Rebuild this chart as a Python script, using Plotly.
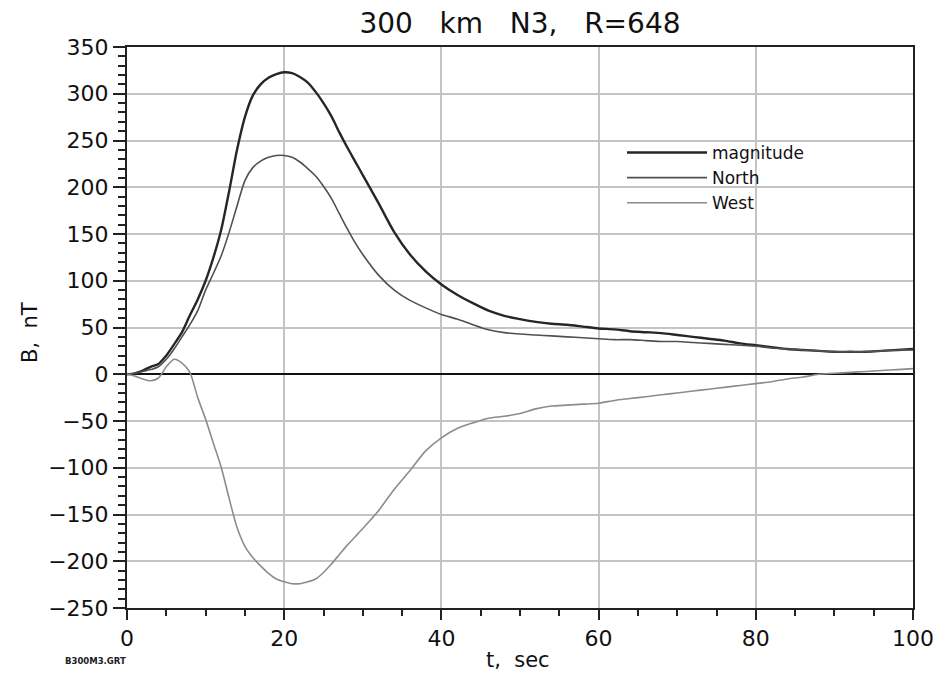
import plotly.graph_objects as go

# ---- data ----
t = [0, 1, 2, 3, 4, 5, 6, 7, 8, 9, 10, 11, 12, 13, 14, 15, 16, 17, 18, 19, 20,
     21, 22, 23, 24, 25, 26, 27, 28, 29, 30, 32, 34, 36, 38, 40, 42, 44, 46, 48,
     50, 52, 54, 56, 58, 60, 62, 64, 66, 68, 70, 72, 74, 76, 78, 80, 82, 84, 86,
     88, 90, 92, 94, 96, 98, 100]

magnitude = [0, 1, 4, 8, 11, 20, 32, 45, 63, 80, 100, 125, 155, 196, 240, 275,
             298, 310, 317, 321, 323, 322, 318, 312, 302, 290, 276, 259, 243,
             228, 213, 183, 152, 128, 110, 96, 85, 76, 68, 62.5, 59, 56, 54, 53,
             51, 49, 48, 46, 45, 44, 42, 40, 38, 36, 33, 31, 29, 27, 26, 25, 24,
             24, 24, 25, 26, 27]

north = [0, 1, 3, 5, 8, 16, 27, 40, 53, 68, 90, 108, 127, 152, 180, 207, 221,
         228, 232, 234, 234, 232, 227, 220, 212, 201, 188, 172, 156, 141, 128,
         106, 90, 79, 71, 64, 59, 53, 47.5, 44.5, 43, 42, 41, 40, 39, 38, 37, 37,
         36, 35, 35, 34, 33, 32, 31, 30, 28, 27, 26, 25, 24, 24, 24, 25, 26, 26]

west = [0, -2, -5, -7, -4, 8, 16, 12, 2, -25, -48, -74, -100, -133, -164, -184,
        -196, -205, -213, -219, -222, -224, -224, -222, -219, -212, -203, -193,
        -183, -174, -165, -146, -123, -103, -82, -68, -58, -52, -47, -45, -42,
        -37, -34, -33, -32, -31, -28, -26, -24, -22, -20, -18, -16, -14, -12,
        -10, -8, -5, -3, 0, 1, 2, 3, 4, 5, 6]

series_names = ["magnitude", "North", "West"]

FONT = "DejaVu Sans"
L, R, T, B = 127, 28, 47, 71
PW, PH = 941 - L - R, 679 - T - B

fig = go.Figure()
fig.add_trace(go.Scatter(x=t, y=magnitude, name=series_names[0], mode="lines",
                         line=dict(color="#262626", width=2.4, shape="spline", smoothing=0.7)))
fig.add_trace(go.Scatter(x=t, y=north, name=series_names[1], mode="lines",
                         line=dict(color="#505050", width=1.6, shape="spline", smoothing=0.7)))
fig.add_trace(go.Scatter(x=t, y=west, name=series_names[2], mode="lines",
                         line=dict(color="#8c8c8c", width=1.6, shape="spline", smoothing=0.7)))

fig.update_layout(
    width=941, height=679,
    margin=dict(l=L, r=R, t=T, b=B, autoexpand=False),
    paper_bgcolor="white", plot_bgcolor="white",
    font=dict(family=FONT, color="#111111"),
    title=dict(text="300\u00a0\u00a0\u00a0km\u00a0\u00a0\u00a0N3,\u00a0\u00a0\u00a0R=648",
               x=0.5, xref="paper", y=1 - 23 / 679, yref="container",
               xanchor="center", yanchor="middle",
               font=dict(family=FONT, size=28, color="#111111")),
    showlegend=True,
    legend=dict(x=(622 - L) / PW, y=(608 - 135) / PH, xanchor="left", yanchor="top",
                bgcolor="rgba(0,0,0,0)", borderwidth=0,
                font=dict(family=FONT, size=17, color="#111111"),
                itemwidth=80, tracegroupgap=0),
)

fig.update_xaxes(
    range=[0, 100], dtick=20, tick0=0, automargin=False,
    showline=True, mirror=True, linecolor="#222222", linewidth=2,
    ticks="outside", ticklen=10, tickwidth=2, tickcolor="#222222",
    minor=dict(dtick=5, ticks="outside", ticklen=6, tickwidth=2,
               tickcolor="#222222", showgrid=False),
    showgrid=True, gridcolor="#c4c4c4", gridwidth=1.6,
    zeroline=False,
    tickfont=dict(family=FONT, size=22, color="#111111"),
)

fig.update_yaxes(
    range=[-250, 350], dtick=50, tick0=0, automargin=False,
    showline=True, mirror=True, linecolor="#222222", linewidth=2,
    ticks="outside", ticklen=12, tickwidth=2, tickcolor="#222222",
    minor=dict(dtick=10, ticks="outside", ticklen=7, tickwidth=2,
               tickcolor="#222222", showgrid=False),
    showgrid=True, gridcolor="#c4c4c4", gridwidth=1.6,
    zeroline=True, zerolinecolor="#111111", zerolinewidth=2.4,
    tickfont=dict(family=FONT, size=22, color="#111111"),
)

# axis titles
fig.add_annotation(text="t,\u00a0\u00a0sec", xref="paper", yref="paper",
                   x=(518 - L) / PW, y=(608 - 660) / PH, xanchor="center", yanchor="middle",
                   showarrow=False, font=dict(family=FONT, size=21, color="#111111"))
fig.add_annotation(text="B,\u00a0\u00a0nT", xref="paper", yref="paper", textangle=-90,
                   x=(30 - L) / PW, y=(608 - 333) / PH, xanchor="center", yanchor="middle",
                   showarrow=False, font=dict(family=FONT, size=21, color="#111111"))

fig.add_annotation(text="<b>B300M3.GRT</b>", xref="paper", yref="paper",
                   x=(95 - L) / PW, y=(608 - 661) / PH,
                   xanchor="center", yanchor="middle", showarrow=False,
                   font=dict(family=FONT, size=8.5, color="#222222"))

fig.write_html("out.html")
